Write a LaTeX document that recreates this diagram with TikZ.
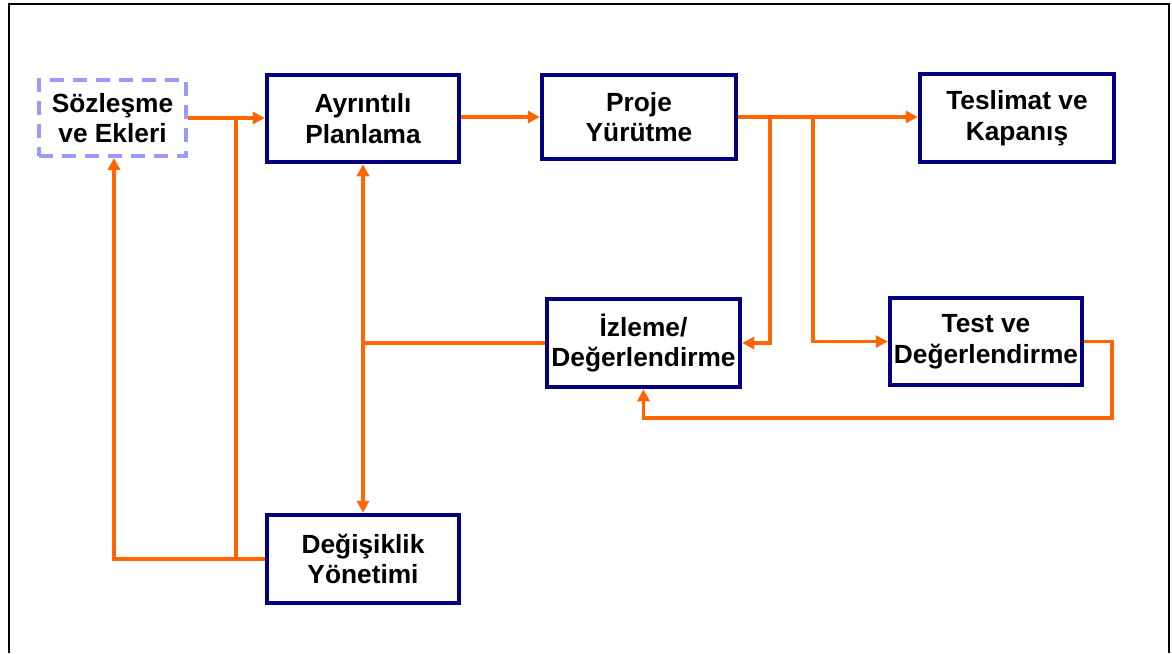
\documentclass[tikz,border=0pt]{standalone}
\usepackage{fontspec}
\setmainfont{Liberation Sans}
\usetikzlibrary{arrows.meta}
\definecolor{navy}{RGB}{0,0,128}
\definecolor{orng}{RGB}{255,102,0}
\definecolor{lav}{RGB}{153,153,255}
\begin{document}
\begin{tikzpicture}[x=1pt,y=-1pt,
  box/.style={draw=navy,line width=4.5pt,fill=white,align=center,inner sep=0pt,
    font=\fontsize{26.3}{30.5}\selectfont\bfseries},
  dbox/.style={box,draw=lav,line width=4pt,dash pattern=on 14pt off 9pt},
  ln/.style={draw=orng,line width=3.2pt},
  arr/.style={ln,-{Triangle[length=12pt,width=12pt]}},
  arrb/.style={ln,{Triangle[length=12pt,width=12pt]}-{Triangle[length=12pt,width=12pt]}}]
\useasboundingbox (0,0) rectangle (1172,653);
\draw[line width=2pt,black] (9,653) -- (9,4) -- (1169,4) -- (1169,653);
\node[dbox,minimum width=147pt,minimum height=76pt] (soz) at (112.5,118) {Sözleşme\\ve Ekleri};
\node[box,minimum width=192pt,minimum height=87pt] (ayr) at (363,118.5) {Ayrıntılı\\Planlama};
\node[box,minimum width=194pt,minimum height=84pt] (pro) at (639,117) {Proje\\Yürütme};
\node[box,minimum width=194pt,minimum height=88pt] (tes) at (1017,118) {Teslimat ve\\Kapanış};
\node[box,minimum width=193pt,minimum height=88pt] (izl) at (643.5,343) {İzleme/\\Değerlendirme};
\node[box,minimum width=192pt,minimum height=87pt] (tst) at (986,341.5) {Test ve\\Değerlendirme};
\node[box,minimum width=192pt,minimum height=88pt] (deg) at (363,559) {Değişiklik\\Yönetimi};
\coordinate (j1) at (236,118);
\coordinate (c1) at (114,559);
\coordinate (j2) at (770,117);
\coordinate (j3) at (813,117);
\coordinate (c2) at (1112,418);
\draw[arr] (soz.east |- j1) -- (j1 -| ayr.west);
\draw[ln] (deg.west) -| (j1);
\draw[arr] (deg.west) -- (c1) -- (c1 |- soz.south);
\draw[arr] (pro.west -| ayr.east) -- (pro.west);
\draw[arrb] (ayr.south) -- (deg.north);
\draw[ln] (izl.west) -- (izl.west -| ayr.south);
\draw[arr] (pro.east) -- (pro.east -| tes.west);
\draw[arr] (j2) |- (izl.east);
\draw[arr] (j3) |- (tst.west);
\draw[arr] (tst.east) -| (c2) -| (izl.south);
\end{tikzpicture}
\end{document}
